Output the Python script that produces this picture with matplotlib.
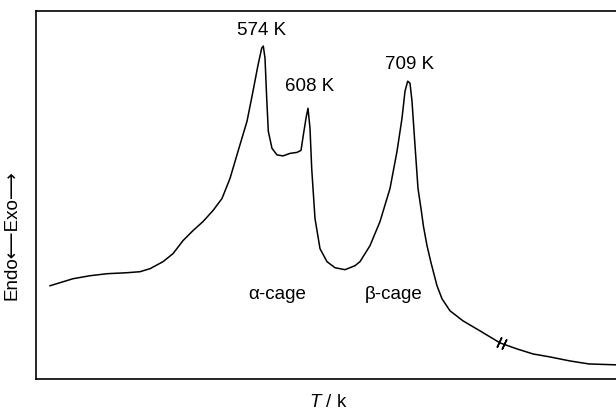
import numpy as np
import matplotlib
matplotlib.use("Agg")
import matplotlib.pyplot as plt

plt.rcParams["font.family"] = ["Liberation Sans", "DejaVu Sans"]
plt.rcParams["mathtext.fontset"] = "custom"
plt.rcParams["mathtext.it"] = "Liberation Sans:italic"
plt.rcParams["mathtext.rm"] = "Liberation Sans"

# DSC trace (arbitrary units)
temp = [50, 73, 90, 107, 127, 140, 150, 163, 173, 183, 193, 203, 213, 222, 230,
        238, 247, 253, 258, 261.7, 263.3, 265, 266.7, 268.3, 272, 277, 283, 290,
        297, 301, 303.3, 306, 308, 310, 311.7, 315, 320, 327, 335, 345, 355, 360,
        370, 380, 390, 397, 402, 405, 407.7, 410, 412, 415, 418, 421, 423.5, 427,
        431, 437, 442, 450, 463, 480, 500, 517, 533, 550, 570, 589, 620]
signal = [93, 100, 103, 105, 106, 107, 110, 117, 125, 138, 148, 157, 168, 180, 200,
          227, 257, 287, 313, 330, 332, 320, 280, 247, 230, 223.5, 222.5, 225,
          226, 228, 243, 260, 270, 250, 210, 160, 130, 117, 111, 109, 113, 117,
          133, 157, 190, 227, 260, 287, 297, 295, 277, 233, 190, 170, 152, 133,
          116, 93, 80, 68, 58, 48, 36, 30, 25, 22, 18, 15, 14]

peak_labels = ["574 K", "608 K", "709 K"]
label_x = [262, 310, 410]
label_y = [349, 293, 315]
cage_labels = ["α-cage", "β-cage"]
cage_x = [277, 394]
cage_y = 85
break_x = 501

fig = plt.figure(figsize=(6.16, 4.10), dpi=100)
ax = fig.add_axes([36 / 616, 30 / 410, 584 / 616, 368 / 410])

ax.plot(temp, signal, color="black", lw=1.1, solid_joinstyle="round")

# axis break marks on the tail
yb = np.interp(break_x, temp, signal)
ax.plot([break_x - 2.5, break_x + 2.5], [yb + 0.8, yb - 0.8], ls="none",
        marker=(2, 2, -25), ms=8, mew=1.1, color="black")

for lab, lx, ly in zip(peak_labels, label_x, label_y):
    ax.text(lx, ly, lab, ha="center", va="center", fontsize=13.5)
for lab, cx in zip(cage_labels, cage_x):
    ax.text(cx, cage_y, lab, ha="center", va="center", fontsize=13.5)

ax.set_xlim(36, 620)
ax.set_ylim(0, 367)
ax.set_xticks([])
ax.set_yticks([])
for s in ax.spines.values():
    s.set_linewidth(1.2)

ax.set_xlabel("$T$ / k", fontsize=13.5, labelpad=10)
ax.set_ylabel("Endo⟵Exo⟶", fontsize=13.5)
ax.yaxis.set_label_coords(-0.027, 0.394)

fig.savefig("out.png", dpi=100)
